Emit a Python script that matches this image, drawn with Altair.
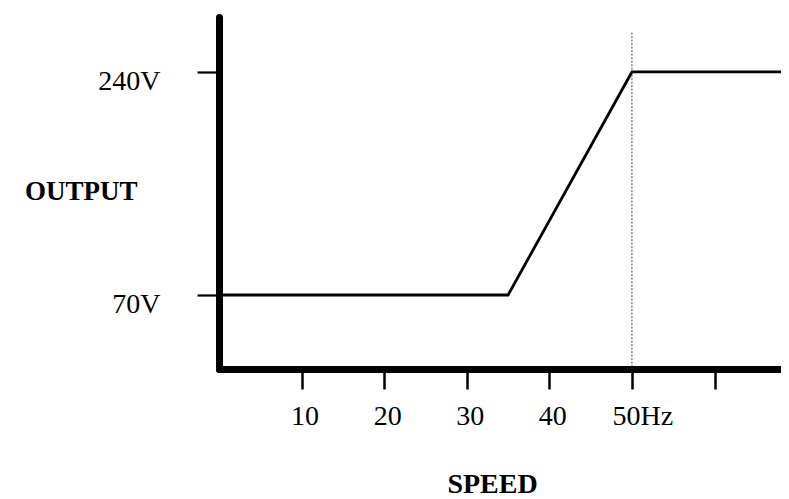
import altair as alt
import pandas as pd

# Data
speed = [0, 35, 50, 69]
output_v = [70, 70, 240, 240]
x_tick_values = [10, 20, 30, 40, 50, 60]
y_tick_values = [70, 240]
marker_speed = [50]
marker_top = [270]

x_domain = [0, 68.05]
y_domain = [13.6, 281.9]

df = pd.DataFrame({"speed": speed, "volts": output_v})
rule_df = pd.DataFrame({"speed": marker_speed, "top": marker_top})

FONT = "Liberation Serif"

xscale = alt.Scale(domain=x_domain, nice=False, zero=False)
yscale = alt.Scale(domain=y_domain, nice=False, zero=False)

x_axis = alt.Axis(
    values=x_tick_values,
    labelExpr="datum.value == 50 ? '50Hz' : (datum.value == 60 ? '' : datum.label)",
    title="SPEED",
    domainWidth=7, domainColor="black", domainCap="round",
    tickSize=20, tickWidth=2.5, tickColor="black",
    labelFont=FONT, labelFontSize=28, labelColor="black",
    labelBaseline="top", labelPadding=13,
    labelAlign={"condition": {"test": "datum.value == 50", "value": "left"}, "value": "center"},
    labelOffset={"condition": {"test": "datum.value == 50", "value": -20}, "value": 3},
    titleFont=FONT, titleFontSize=28, titleFontWeight="bold", titleColor="black",
    titleX=273, titleY=123, titleAlign="center", titleBaseline="alphabetic",
    grid=False, labelFlush=False, labelOverlap=False,
)

y_axis = alt.Axis(
    values=y_tick_values,
    labelExpr="datum.value + 'V'",
    title="OUTPUT",
    domainWidth=7, domainColor="black", domainCap="round",
    tickSize=22, tickWidth=2.2, tickColor="black",
    labelFont=FONT, labelFontSize=28, labelColor="black",
    labelBaseline="alphabetic", labelOffset=17.5, labelPadding=37,
    titleFont=FONT, titleFontSize=27, titleFontWeight="bold", titleColor="black",
    titleAngle=0, titleAlign="right", titleBaseline="alphabetic",
    titleX=-82, titleY=182,
    grid=False, labelFlush=False, labelOverlap=False,
)

line = alt.Chart(df).mark_line(color="black", strokeWidth=2.8, strokeJoin="miter").encode(
    x=alt.X("speed:Q", scale=xscale, axis=x_axis),
    y=alt.Y("volts:Q", scale=yscale, axis=y_axis),
)

rule = alt.Chart(rule_df).mark_rule(color="#444444", strokeWidth=1, strokeDash=[2, 1.5]).encode(
    x=alt.X("speed:Q", scale=xscale, axis=x_axis),
    y=alt.Y("top:Q", scale=yscale, axis=y_axis),
    y2=alt.datum(y_domain[0]),
)

chart = (
    alt.layer(line, rule)
    .properties(
        width=562,
        height=352,
        background="white",
        autosize=alt.AutoSizeParams(type="none"),
        padding={"left": 211, "top": 9, "right": 0, "bottom": 130},
    )
    .configure_view(strokeWidth=0)
)

chart.save("out.html", embed_options={"renderer": "svg", "actions": False})
